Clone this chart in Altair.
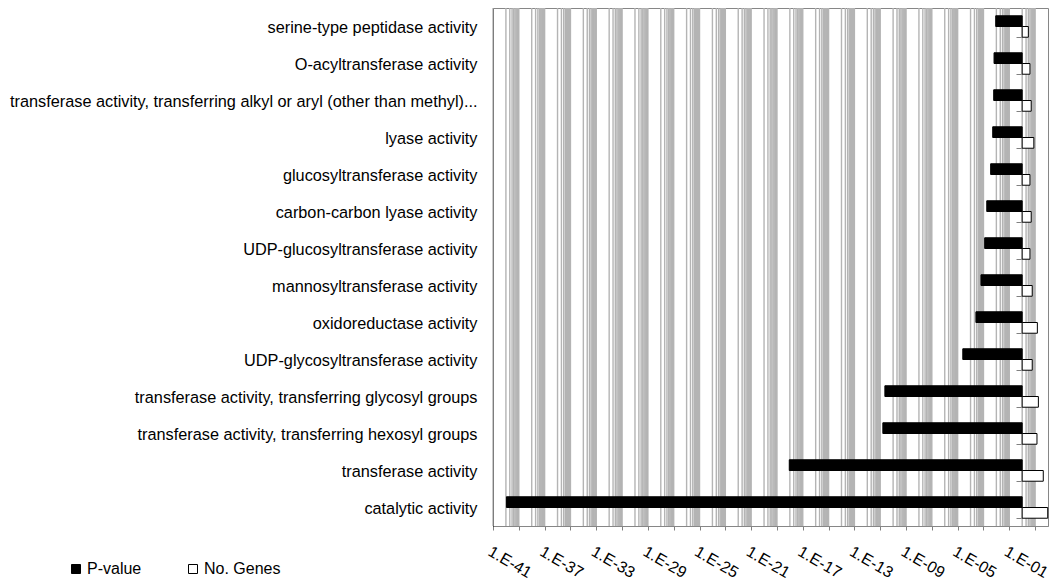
import altair as alt
import pandas as pd

FONT = "Liberation Sans"

categories = [
    "serine-type peptidase activity",
    "O-acyltransferase activity",
    "transferase activity, transferring alkyl or aryl (other than methyl)...",
    "lyase activity",
    "glucosyltransferase activity",
    "carbon-carbon lyase activity",
    "UDP-glucosyltransferase activity",
    "mannosyltransferase activity",
    "oxidoreductase activity",
    "UDP-glycosyltransferase activity",
    "transferase activity, transferring glycosyl groups",
    "transferase activity, transferring hexosyl groups",
    "transferase activity",
    "catalytic activity",
]
p_values = [8.9e-3, 6.6e-3, 6.2e-3, 5.2e-3, 3.6e-3, 1.8e-3, 1.24e-3, 6.4e-4,
            2.6e-4, 2.5e-5, 2.3e-11, 1.6e-11, 9.0e-19, 1.1e-40]
genes = [3, 4, 5, 8, 4, 5, 4, 6, 15, 6, 18, 14, 43, 95]
series_names = ["P-value", "No. Genes"]

rows = []
for c, p, g in zip(categories, p_values, genes):
    rows.append({"category": c, "series": "P-value", "value": p, "base": 1.0})
    rows.append({"category": c, "series": "No. Genes", "value": g, "base": 1.0})
df = pd.DataFrame(rows)

# axis definition: log axis 1E-41 .. 1E+2, major unit 2 decades
major_vals = [10.0 ** e for e in range(-41, 2, 2)]
minor_vals = [m * 10.0 ** e for e in range(-40, 2, 2) for m in range(1, 10)]

xscale = alt.Scale(type="log", domain=[1e-41, 1e2], nice=False)

label_expr = ("(round(log(datum.value)/LN10)+41)%4==0 ? '1.E-' + "
              "format(abs(round(log(datum.value)/LN10)), '02d') : ''")

xaxis = alt.Axis(values=major_vals, grid=False, ticks=True, tickSize=4,
                 tickColor="#808080", domainColor="#868686",
                 labelExpr=label_expr, labelAngle=30, labelAlign="left",
                 labelBaseline="top", labelPadding=13, labelFont=FONT,
                 labelFontSize=16, labelColor="black", labelOverlap=False,
                 labelFlush=False, labelBound=False, title=None)

grid = alt.Chart(pd.DataFrame({"v": minor_vals + major_vals})).mark_rule(
    color="#b4b4b4", strokeWidth=1.4
).encode(x=alt.X("v:Q", scale=xscale, axis=xaxis, title=None))

bars = alt.Chart(df).mark_bar(stroke="black", strokeWidth=1).encode(
    x=alt.X("value:Q", scale=xscale, title=None, axis=xaxis),
    x2="base:Q",
    y=alt.Y("category:N", sort=categories, title=None,
            scale=alt.Scale(paddingInner=0.42, paddingOuter=0.21),
            axis=alt.Axis(orient="left", domain=True, domainColor="black",
                          domainWidth=1, ticks=False, tickSize=0, labelPadding=16,
                          labelFont=FONT, labelFontSize=16.3, labelColor="black",
                          labelLimit=1000, labelBaseline="middle", labelOffset=1.5)),
    yOffset=alt.YOffset("series:N", sort=series_names,
                        scale=alt.Scale(paddingInner=0, paddingOuter=0)),
    color=alt.Color("series:N", sort=series_names,
                    scale=alt.Scale(domain=series_names, range=["black", "white"]),
                    legend=alt.Legend(title=None, orient="none", legendX=-425,
                                      legendY=553, direction="horizontal",
                                      symbolType="square", symbolSize=81,
                                      symbolStrokeColor="black", symbolStrokeWidth=1,
                                      labelFont=FONT, labelFontSize=16,
                                      labelColor="black", columnPadding=43,
                                      labelOffset=3, padding=0)),
)

cat_ticks = alt.Chart(pd.DataFrame({"category": categories})).mark_point(
    opacity=0
).encode(
    y=alt.Y("category:N", sort=categories, title=None,
            axis=alt.Axis(orient="left", offset=-529, labels=False, domain=False,
                          ticks=True, tickBand="extent", tickSize=6,
                          tickColor="#808080")),
)

chart = alt.layer(grid, bars, cat_ticks).resolve_axis(y="independent").properties(
    width=555, height=518,
    padding={"left": 493, "top": 8, "right": 10, "bottom": 55},
    autosize=alt.AutoSizeParams(type="none"),
).configure_view(stroke="#868686", strokeWidth=1)

chart.save("out.html", embed_options={"renderer": "svg", "actions": False})
